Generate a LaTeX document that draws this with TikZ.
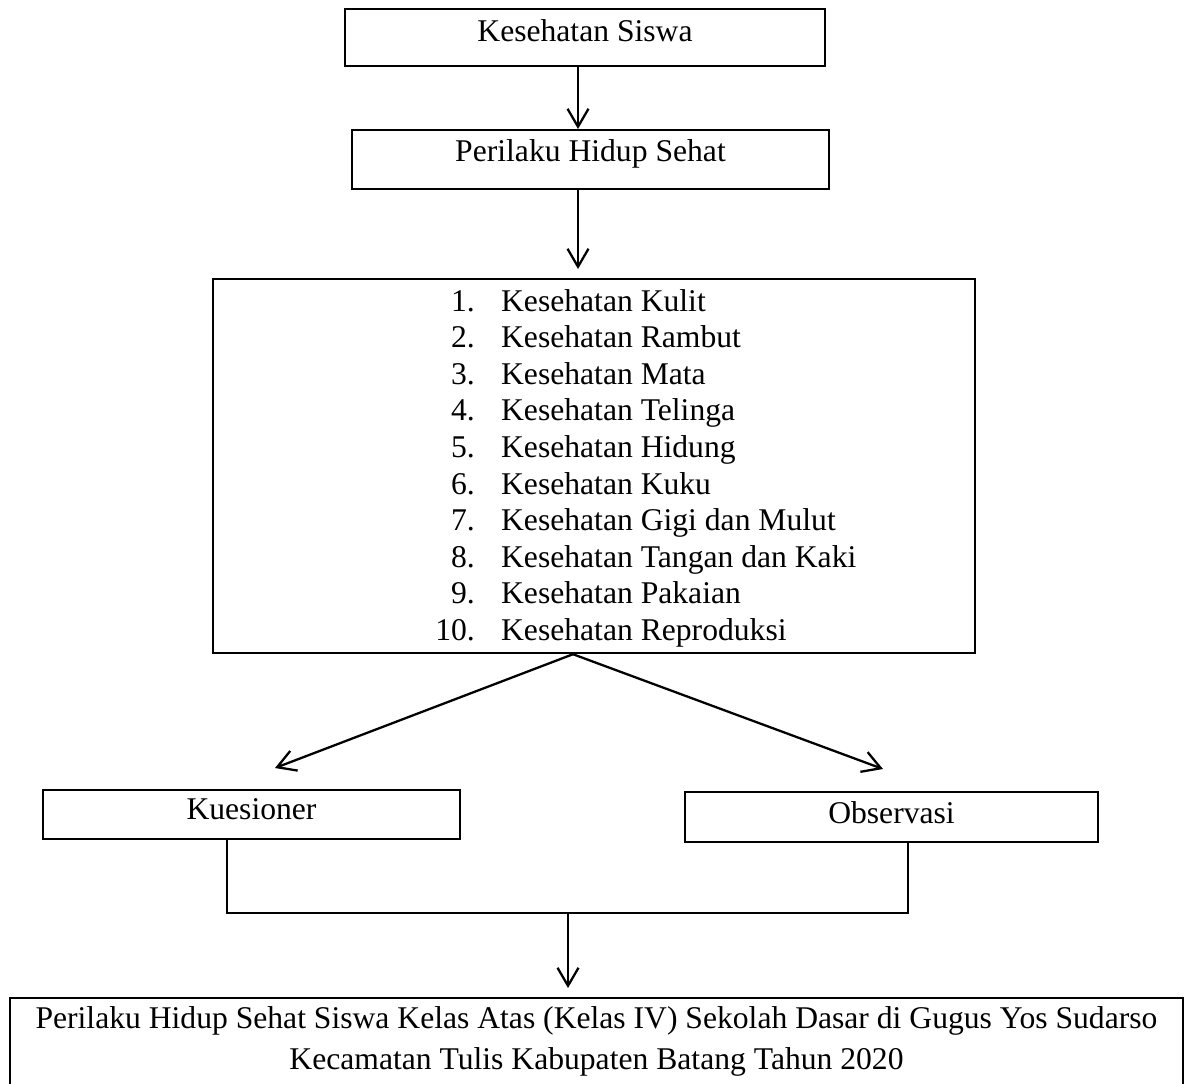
\documentclass[tikz,border=0pt]{standalone}
\usepackage{fontspec}
\setmainfont{Liberation Serif}
\usetikzlibrary{arrows.meta}

\begin{document}
\begin{tikzpicture}[x=0.02cm, y=-0.02cm]
        \tikzstyle{every path}=[line width=1.3pt]
        \tikzstyle{box}=[draw, inner sep=0pt, anchor=north, font=\fontsize{18}{21.6}\selectfont]
        \tikzstyle{teks}=[inner sep=0pt, font=\fontsize{18}{21.6}\selectfont]
        \tikzstyle{panah}=[->, >={Straight Barb[length=3.6mm, width=4.2mm]}]
        \tikzstyle{garis}=[line width=0.8pt]

        \useasboundingbox (0,0) rectangle (1186,1083);

        \node[box, minimum width=9.6cm, text height=0.64cm, text depth=0.5cm] (siswa) at (585,8) {Kesehatan Siswa};
        \node[box, minimum width=9.54cm, text height=0.62cm, text depth=0.56cm] (perilaku) at (590.5,129) {Perilaku Hidup Sehat};
        \node[box, minimum width=15.24cm, minimum height=7.48cm] (gejala) at (594,278) {};
        \foreach \n/\t in {1/Kulit, 2/Rambut, 3/Mata, 4/Telinga, 5/Hidung, 6/Kuku, 7/Gigi dan Mulut, 8/Tangan dan Kaki, 9/Pakaian, 10/Reproduksi} {
            \node[teks, anchor=base east] (no\n) at (476,{311+36.6*(\n-1)}) {\n.};
            \node[teks, anchor=base west] (item\n) at (500,{311+36.6*(\n-1)}) {Kesehatan \t};
        };
        \node[box, minimum width=8.34cm, text height=0.58cm, text depth=0.4cm] (kuesioner) at (251.5,789) {Kuesioner};
        \node[box, minimum width=8.26cm, text height=0.62cm, text depth=0.38cm] (observasi) at (891.5,791) {Observasi};
        \node[box, minimum width=23.46cm, text height=0.6cm, text depth=1.26cm, font=\fontsize{18}{23.3}\selectfont] (hasil) at (596.5,997)
            {\begin{tabular}[t]{@{}c@{}}Perilaku Hidup Sehat Siswa Kelas Atas (Kelas IV) Sekolah Dasar di Gugus Yos Sudarso\\Kecamatan Tulis Kabupaten Batang Tahun 2020\end{tabular}};

        \coordinate (sumbu) at (578,0);
        \coordinate (puncak) at (573,652);
        \coordinate (ujungK) at (275,768);
        \coordinate (ujungO) at (883,769);
        \coordinate (kiri) at (227,913);
        \coordinate (kanan) at (908,913);
        \coordinate (tengah) at (568,913);

        \draw[panah] (siswa.south -| sumbu) -- (perilaku.north -| sumbu);
        \draw[panah, shorten >=0.18cm] (perilaku.south -| sumbu) -- (gejala.north -| sumbu);
        \draw[panah] (gejala.south -| puncak) -- (ujungK);   % ke kuesioner
        \draw[panah] (gejala.south -| puncak) -- (ujungO);   % ke observasi
        \draw[garis] (kuesioner.south -| kiri) -- (kiri) -- (kanan) -- (observasi.south -| kanan);
        \draw[panah, shorten >=0.18cm] (tengah) -- (hasil.north -| tengah);

\end{tikzpicture}
\end{document}
